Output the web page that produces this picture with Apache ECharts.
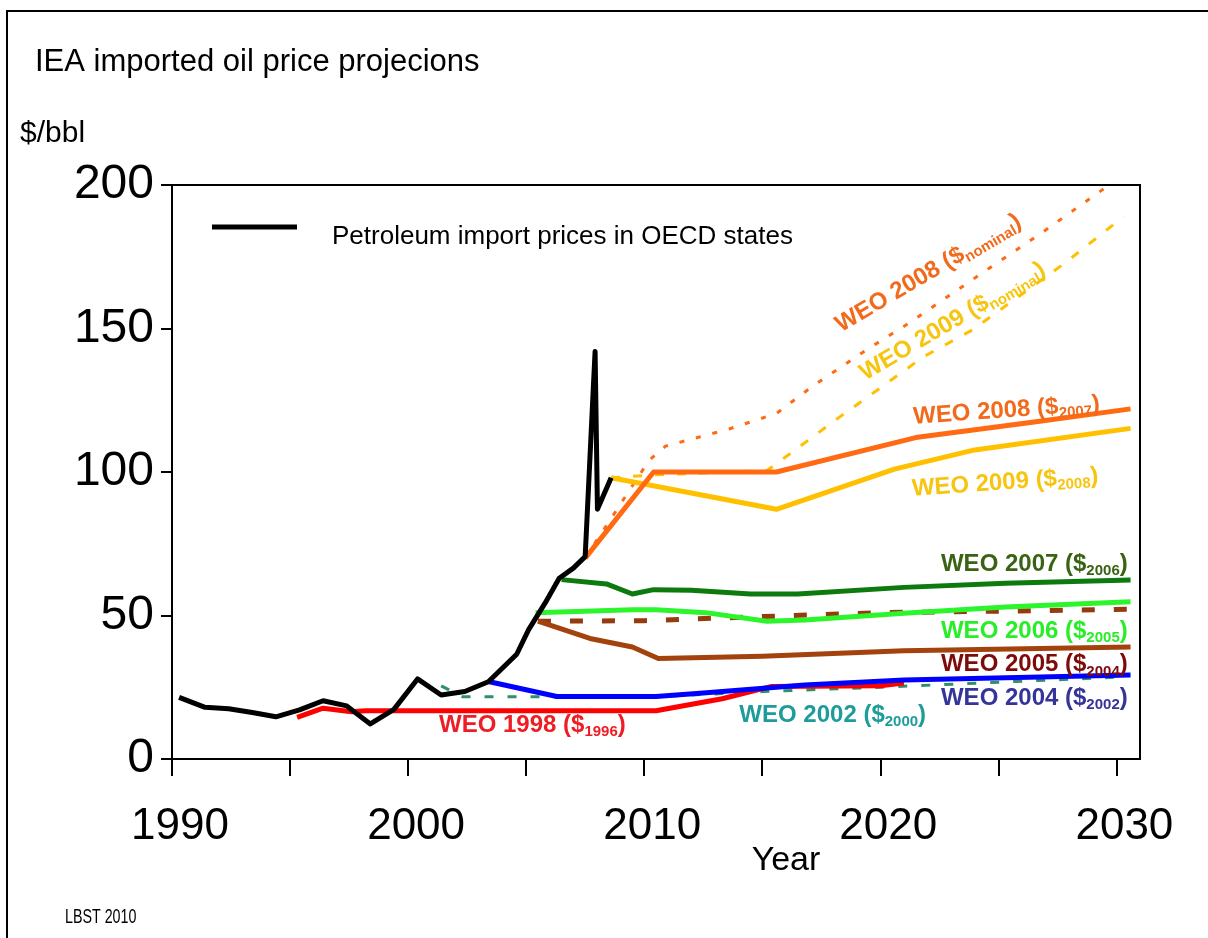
<!DOCTYPE html>
<html><head><meta charset="utf-8">
<script src="https://cdn.jsdelivr.net/npm/echarts@6/dist/echarts.min.js"></script>
<style>html,body{margin:0;padding:0;background:#fff}#c{width:1208px;height:938px}</style>
</head><body><div id="c"></div>
<script>
// ---- data ----
const xTickValues = [1990, 1995, 2000, 2005, 2010, 2015, 2020, 2025, 2030];
const xLabelValues = [1990, 2000, 2010, 2020, 2030];
const yTickValues = [0, 50, 100, 150, 200];

const oecdPrices = [[1990.3,21.5],[1991.4,18],[1992.4,17.5],[1993.4,16.2],[1994.4,14.7],[1995.4,17.1],[1996.4,20.3],[1997.4,18.5],[1998.4,12.2],[1999.4,17.3],[2000.4,27.9],[2001.4,22.3],[2002.4,23.5],[2003.4,26.9],[2004.6,36.5],[2005.1,45],[2005.8,54.3],[2006.4,63],[2007.0,66.5],[2007.5,70.5],[2007.92,142],[2008.02,87],[2008.6,98]];
const weo2008Real = [[2007.5,70],[2010.4,100],[2015.6,100],[2021.5,112],[2026.6,117.5],[2030.6,122]];
const weo2009Real = [[2008.6,98],[2015.6,87],[2020.6,101],[2024,107.7],[2030.6,115.2]];
const weo2008Nominal = [[2007.5,70],[2010.2,104],[2010.9,109],[2013.6,115],[2015.6,120.4],[2017.1,129.7],[2019.5,143],[2021.2,151.8],[2023.9,167],[2026.9,183.7],[2029.4,198.3],[2030.6,205]];
const weo2009Nominal = [[2008.6,98],[2010.5,99],[2015.2,100.5],[2016,105.3],[2018.3,119.3],[2019.7,127.5],[2021.8,140],[2023.9,149.5],[2027.9,173.3],[2030.3,189]];
const weo2007 = [[2006.5,62.5],[2008.4,61],[2009.5,57.5],[2010.4,59],[2012,58.8],[2014.5,57.5],[2016.5,57.5],[2021,59.8],[2025.3,61.2],[2030.6,62.4]];
const weo2006 = [[2005.4,51],[2009.5,52],[2010.5,52],[2012.6,51],[2015.2,48],[2016.8,48.4],[2021,50.8],[2025.3,53],[2030.6,54.8]];
const weo2005 = [[2005.5,48],[2007.7,42],[2009.5,39],[2010.6,35],[2015,35.8],[2021,37.7],[2030.6,39]];
const weo2005Dashed = [[2005.5,48],[2010,48.2],[2015.6,49.8],[2020,51],[2025,51.5],[2030.5,52.2]];
const weo2004 = [[2003.4,27],[2006.3,21.8],[2010.5,21.8],[2012.5,23],[2016.8,25.8],[2021,27.5],[2030.6,29.3]];
const weo2002 = [[2001.4,25.5],[2002.3,21.7],[2010.5,21.7],[2015,23.5],[2020,25],[2030,28.5]];
const weo1998 = [[1995.3,14.5],[1996.4,17.7],[1997.6,16.5],[1998.2,16.8],[2010.5,16.8],[2013.3,21],[2015.4,25.3],[2020,25.5],[2021,26.5]];

const legendName = 'Petroleum import prices in OECD states';

// label annotations: text parts and anchor in data coordinates
const annotations = [
  {main:'WEO 2008 ($', sub:'nominal', at:[2018.19,150.6], color:'#F26A1B', rot:30.5},
  {main:'WEO 2009 ($', sub:'nominal', at:[2019.22,133.8], color:'#F7C510', rot:30.5},
  {main:'WEO 2008 ($', sub:'2007', at:[2021.4,119.1], color:'#F26A1B', rot:4},
  {main:'WEO 2009 ($', sub:'2008', at:[2021.34,94.0], color:'#F7C510', rot:4},
  {main:'WEO 2007 ($', sub:'2006', at:[2022.57,67.8], color:'#3A6314', rot:0},
  {main:'WEO 2006 ($', sub:'2005', at:[2022.57,44.6], color:'#27EE27', rot:0},
  {main:'WEO 2005 ($', sub:'2004', at:[2022.57,32.8], color:'#7E0A0A', rot:0},
  {main:'WEO 2004 ($', sub:'2002', at:[2022.57,21.1], color:'#34349A', rot:0},
  {main:'WEO 2002 ($', sub:'2000', at:[2014.03,15.3], color:'#1E9C9C', rot:0},
  {main:'WEO 1998 ($', sub:'1996', at:[2001.31,11.8], color:'#EE1C24', rot:0}
];

const FONT = "'Liberation Sans', Arial, sans-serif";

function line(name, data, color, width, type, z) {
  return {name, type:'line', data, showSymbol:false, symbol:'none', z: z||2,
    lineStyle:{color, width, type: type||'solid', cap:'butt', join:'round'}, itemStyle:{color}};
}

const chart = echarts.init(document.getElementById('c'), null, {renderer:'canvas'});
chart.setOption({
  animation:false,
  backgroundColor:'#fff',
  grid:{left:172, top:185, right:68, bottom:179, show:true, borderColor:'#000', borderWidth:2, backgroundColor:'transparent'},
  legend:{data:[{name:legendName, icon:'rect'}], left:212, top:224, padding:0, itemWidth:85, itemHeight:5,
    formatter: n => '{t|' + n + '}',
    textStyle:{fontFamily:FONT, fontSize:26, color:'#000',
      rich:{t:{fontFamily:FONT, fontSize:26, color:'#000', padding:[20,0,0,30]}}}},
  xAxis:{type:'value', min:1990, max:2031,
    axisLine:{lineStyle:{color:'#000', width:2}},
    axisTick:{show:true, length:17, inside:false, lineStyle:{color:'#000', width:2}, customValues:xTickValues},
    axisLabel:{customValues:xLabelValues, fontFamily:FONT, fontSize:44, color:'#000', margin:46, padding:[0,0,0,16], formatter: v => String(v)},
    splitLine:{show:false}},
  yAxis:{type:'value', min:0, max:200, interval:50,
    axisLine:{show:true, lineStyle:{color:'#000', width:2}},
    axisTick:{show:true, length:11, lineStyle:{color:'#000', width:2}, customValues:yTickValues},
    axisLabel:{fontFamily:FONT, fontSize:48, color:'#000', margin:18, customValues:yTickValues},
    splitLine:{show:false}},
  series:[
    line('weo2002', weo2002, '#2F8F6A', 3, [9,14], 2),
    line('weo1998', weo1998, '#FF0000', 5, 'solid', 3),
    line('weo2004', weo2004, '#0000FF', 5, 'solid', 4),
    line('weo2005d', weo2005Dashed, '#953B0E', 5, [13,19], 4),
    line('weo2005', weo2005, '#A3420C', 5, 'solid', 5),
    line('weo2006', weo2006, '#2CF52C', 5, 'solid', 6),
    line('weo2007', weo2007, '#0C7A0C', 5, 'solid', 6),
    line('weo2009n', weo2009Nominal, '#FFC000', 3, [9,13], 6),
    line('weo2008n', weo2008Nominal, '#FF6A13', 3, [5,12], 6),
    line('weo2009', weo2009Real, '#FFC000', 5, 'solid', 7),
    line('weo2008', weo2008Real, '#FF6A13', 5, 'solid', 8),
    line(legendName, oecdPrices, '#000000', 5, 'solid', 10)
  ]
});

const g = [];
g.push({type:'rect', shape:{x:7, y:11, width:1400, height:1200}, style:{fill:'none', stroke:'#000', lineWidth:2}, silent:true, z:0});
g.push({type:'text', x:35, y:62, style:{text:'IEA imported oil price projecions', font:"31px 'Liberation Sans', Arial", fill:'#000', textVerticalAlign:'middle'}});
g.push({type:'text', x:20, y:134, style:{text:'$/bbl', font:"30px 'Liberation Sans', Arial", fill:'#000', textVerticalAlign:'middle'}});
g.push({type:'text', x:786, y:861, style:{text:'Year', font:"34px 'Liberation Sans', Arial", fill:'#000', textAlign:'center', textVerticalAlign:'middle'}});
g.push({type:'text', x:65, y:917, scaleX:0.68, originX:0, originY:0, style:{text:'LBST 2010', font:"21px 'Liberation Sans', Arial", fill:'#000', textVerticalAlign:'middle'}});
annotations.forEach(a => {
  const p = chart.convertToPixel({gridIndex:0}, a.at);
  g.push({type:'text', x:p[0], y:p[1], rotation:a.rot*Math.PI/180, z:20,
    style:{text:'{m|' + a.main + '}{s|' + a.sub + '}{m|)}', fill:a.color, textAlign:'left', textVerticalAlign:'middle',
      rich:{m:{fontFamily:FONT, fontWeight:'bold', fontSize:24, lineHeight:28, fill:a.color},
            s:{fontFamily:FONT, fontWeight:'bold', fontSize:15, lineHeight:12, verticalAlign:'bottom', fill:a.color}}}});
});
chart.setOption({graphic:{elements:g}});
</script></body></html>
